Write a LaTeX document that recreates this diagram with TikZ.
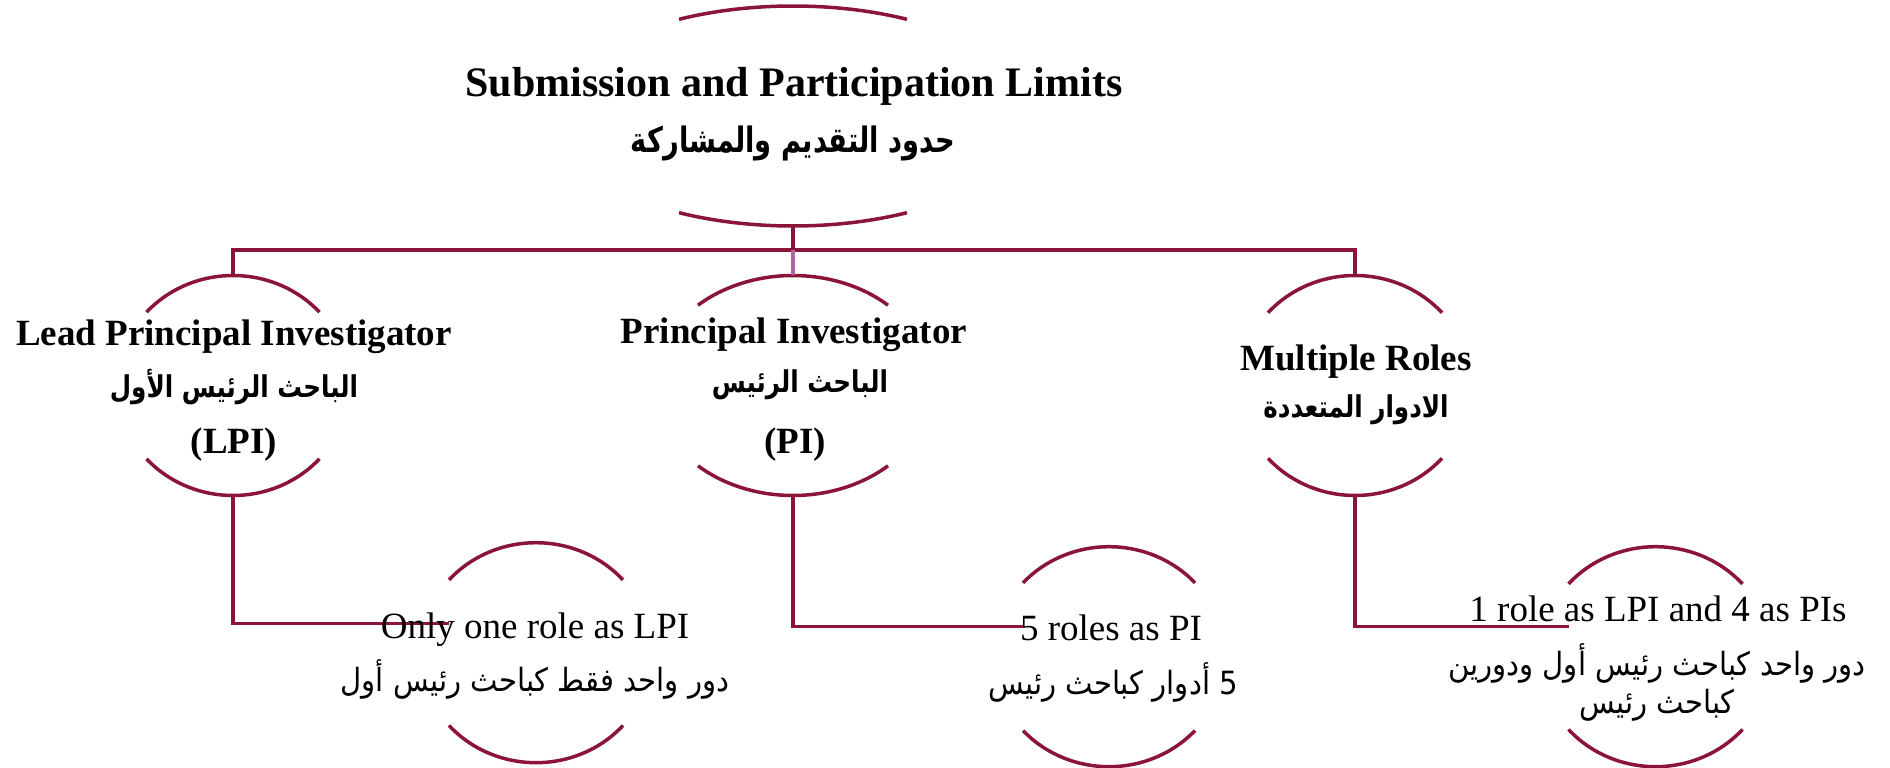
\documentclass[tikz,border=0pt]{standalone}
\usepackage{fontspec}
\setmainfont{Liberation Serif}
\newfontfamily\arabictitle[Script=Arabic,FakeStretch=0.78]{DejaVu Sans}
\newfontfamily\arabichead[Script=Arabic,FakeStretch=0.82]{DejaVu Sans}
\newfontfamily\arabicbody[Script=Arabic,FakeStretch=0.91]{DejaVu Sans}
\TeXXeTstate=1
\usetikzlibrary{shapes.geometric}
\definecolor{qmaroon}{RGB}{138,21,56}
\definecolor{qpurple}{RGB}{178,98,160}
\tikzset{
  ringline/.style={draw=qmaroon, line width=3.5pt},
  conn/.style={draw=qmaroon, line width=3.5pt},
  connpurple/.style={draw=qpurple, line width=3.5pt},
  ttl/.style={font=\fontsize{42}{50}\selectfont\bfseries, anchor=base, inner sep=0pt},
  ttlar/.style={font=\arabictitle\fontsize{35}{42}\selectfont\bfseries, anchor=center, inner sep=0pt},
  head/.style={font=\fontsize{37}{44}\selectfont\bfseries, anchor=base, inner sep=0pt},
  headar/.style={font=\arabichead\fontsize{30}{36}\selectfont\bfseries, anchor=center, inner sep=0pt},
  body/.style={font=\fontsize{37}{44}\selectfont, anchor=base, inner sep=0pt},
  bodyar/.style={font=\arabicbody\fontsize{32}{38}\selectfont, anchor=center, inner sep=0pt, align=center},
}
\newcommand\ringnode[6]{%
  \node[ellipse, inner sep=0pt, minimum width=2*#4pt, minimum height=2*#5pt] (#1) at (#2,#3) {};
  \pgfmathsetmacro\ringphi{acos(#6/#4)}%
  \pgfmathsetmacro\ringA{180+\ringphi}%
  \pgfmathsetmacro\ringB{360-\ringphi}%
  \pgfmathsetmacro\ringC{\ringphi}%
  \pgfmathsetmacro\ringD{180-\ringphi}%
  \draw[ringline] plot[domain=\ringA:\ringB, samples=60] ({#2+#4*cos(\x)},{#3+#5*sin(\x)});
  \draw[ringline] plot[domain=\ringC:\ringD, samples=60] ({#2+#4*cos(\x)},{#3+#5*sin(\x)});
}
\begin{document}
\begin{tikzpicture}[x=1pt,y=-1pt]
\useasboundingbox (0,0) rectangle (1890,768);
% rings
\ringnode{top}{793}{116}{239}{110}{114}
\ringnode{lpi}{233}{385.5}{116}{110}{86.5}
\ringnode{pi}{793}{385.5}{139}{110}{95}
\ringnode{mr}{1355}{385.5}{116}{110}{87}
\ringnode{cA}{536}{652.7}{116}{110}{87}
\ringnode{cB}{1109}{656.7}{116}{110}{86}
\ringnode{cC}{1655.5}{656.7}{116}{110}{87}
% connectors
\coordinate (bus) at (793,250);
\draw[conn] (top.south) -- (bus);
\draw[conn] (lpi.north) |- (bus);
\draw[conn] (mr.north) |- (bus);
\draw[connpurple] (bus) -- (pi.north);
\coordinate (cAin) at (449,623.5);
\coordinate (cBin) at (1023,626.7);
\coordinate (cCin) at (1568.5,626.7);
\draw[conn] (lpi.south) |- (cAin);
\draw[conn] (pi.south) |- (cBin);
\draw[conn] (mr.south) |- (cCin);
% texts
\node[ttl] (topEn) at (794,96.7) {Submission and Participation Limits};
\node[ttlar] (topAr) at (793,143) {\beginR حدود التقديم والمشاركة\endR};
\node[head] (lpiEn) at (234,345) {Lead Principal Investigator};
\node[headar] (lpiAr) at (234,387) {\beginR الباحث الرئيس الأول\endR};
\node[head] (lpiAb) at (234,453) {(LPI)};
\node[head] (piEn) at (794,343) {Principal Investigator};
\node[headar] (piAr) at (800,385) {\beginR الباحث الرئيس\endR};
\node[head] (piAb) at (795,453) {(PI)};
\node[head] (mrEn) at (1356,370) {Multiple Roles};
\node[headar] (mrAr) at (1356,410) {\beginR الادوار المتعددة\endR};
\node[body] (cAEn) at (535,638.3) {Only one role as LPI};
\node[bodyar] (cAAr) at (535,679) {\beginR دور واحد فقط كباحث رئيس أول\endR};
\node[body] (cBEn) at (1111,640) {5 roles as PI};
\node[bodyar] (cBAr) at (1113,682) {\beginR 5 أدوار كباحث رئيس\endR};
\node[body] (cCEn) at (1658,621.7) {1 role as LPI and 4 as PIs};
\node[bodyar] (cCAr) at (1657,682) {\beginR دور واحد كباحث رئيس أول ودورين\endR\\\beginR كباحث رئيس\endR};
\end{tikzpicture}
\end{document}
